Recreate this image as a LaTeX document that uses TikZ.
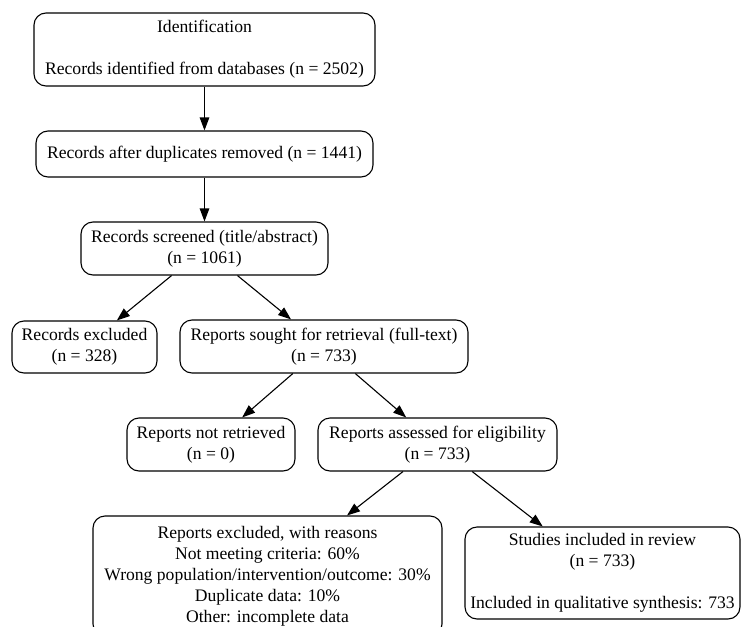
\documentclass[tikz,border=0pt]{standalone}
\usepackage{fontspec}
\setmainfont{Liberation Serif}
\usetikzlibrary{arrows.meta,calc}
\begin{document}
\begin{tikzpicture}[x=1pt,y=-1pt,
  box/.style={draw, rounded corners=12pt, line width=1.1pt, align=center,
    font=\fontsize{17.6}{21}\selectfont, inner sep=0pt},
  arr/.style={line width=1.1pt, -{Triangle[length=13pt,width=9.5pt]}}]
\useasboundingbox (0,0) rectangle (741,626);
\clip (0,0) rectangle (741,626);
\fill[white] (0,0) rectangle (741,626);
\node[box, minimum width=341pt, minimum height=73pt] (id) at (204.5,49.5)
  {Identification\\[21pt]Records identified from databases (n = 2502)};
\node[box, minimum width=337pt, minimum height=46pt] (dup) at (204.5,154)
  {Records after duplicates removed (n = 1441)};
\node[box, minimum width=247pt, minimum height=53pt] (scr) at (204.5,248.5)
  {Records screened (title/abstract)\\(n = 1061)};
\node[box, minimum width=145pt, minimum height=52pt] (rex) at (84.5,347)
  {Records excluded\\(n = 328)};
\node[box, minimum width=288pt, minimum height=53pt] (sought) at (324,346.5)
  {Reports sought for retrieval (full-text)\\(n = 733)};
\node[box, minimum width=168pt, minimum height=53pt] (nret) at (211,444.5)
  {Reports not retrieved\\(n = 0)};
\node[box, minimum width=239pt, minimum height=53pt] (ass) at (437.5,444.5)
  {Reports assessed for eligibility\\(n = 733)};
\node[box, minimum width=349pt, minimum height=120pt] (repex) at (267.5,576)
  {Reports excluded, with reasons\\Not meeting criteria: 60\%\\Wrong population/intervention/outcome: 30\%\\Duplicate data: 10\%\\Other: incomplete data};
\node[box, minimum width=275pt, minimum height=92pt] (stud) at (602.5,573)
  {Studies included in review\\(n = 733)\\[21pt]Included in qualitative synthesis: 733};
\draw[arr] (id) -- (dup);
\draw[arr] (dup) -- (scr);
\draw[arr] (scr) -- (rex);
\draw[arr] (scr) -- (sought);
\draw[arr] (sought) -- (nret);
\draw[arr] (sought) -- (ass);
\draw[arr] ([xshift=-34.5pt]ass.south) -- ([xshift=79.5pt]repex.north);
\draw[arr] (ass) -- (stud);
\end{tikzpicture}
\end{document}
